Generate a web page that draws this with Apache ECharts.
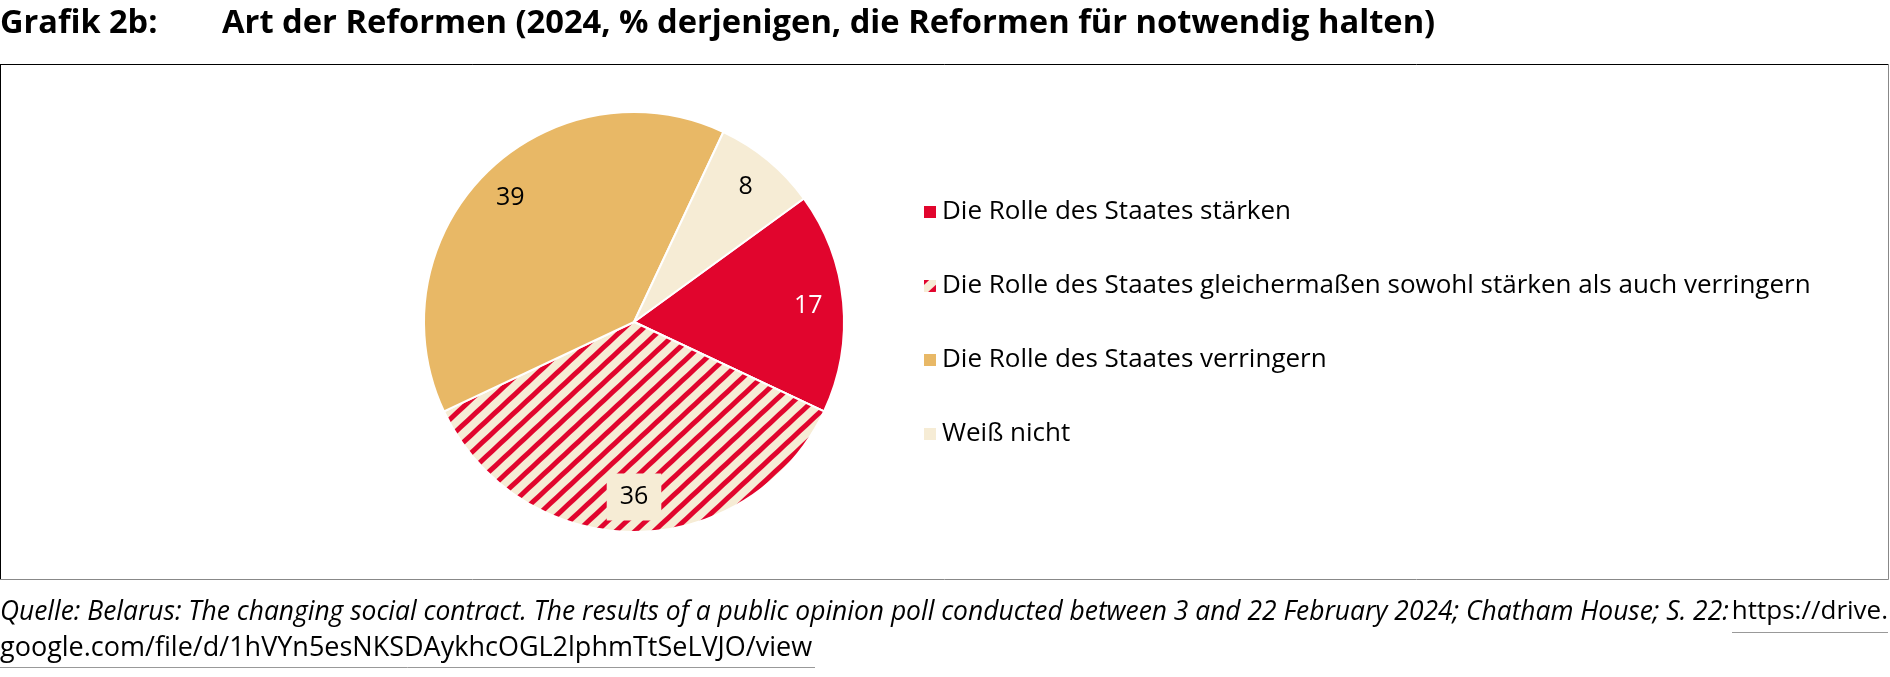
<!DOCTYPE html>
<html>
<head>
<meta charset="utf-8">
<title>Art der Reformen</title>
<script src="https://cdn.jsdelivr.net/npm/echarts@6/dist/echarts.min.js"></script>
<style>
  html, body { margin: 0; padding: 0; background: #fff; }
  #chart { width: 1890px; height: 677px; }
</style>
</head>
<body>
<div id="chart"></div>
<script>
  // Daten
  var categories = [
    'Die Rolle des Staates stärken',
    'Die Rolle des Staates gleichermaßen sowohl stärken als auch verringern',
    'Die Rolle des Staates verringern',
    'Weiß nicht'
  ]
  var values = [17, 36, 39, 8]
  var sliceColors = ['#e1052d', '#f6ecd5', '#e8b866', '#f6ecd5']
  var labelColors = ['#ffffff', '#000000', '#000000', '#000000']
  var hatched = [false, true, false, false]

  var titleLabel = 'Grafik 2b:'
  var titleText = 'Art der Reformen (2024, % derjenigen, die Reformen für notwendig halten)'
  var sourceText = 'Quelle: Belarus: The changing social contract. The results of a public opinion poll conducted between 3 and 22 February 2024; Chatham House; S. 22: '
  var linkLine1 = 'https://drive.'
  var linkLine2 = 'google.com/file/d/1hVYn5esNKSDAykhcOGL2lphmTtSeLVJO/view'

  var FONT = '"Open Sans", "Noto Sans", sans-serif'
  var RED = '#e1052d'
  var CREAM = '#f6ecd5'
  var center = [634, 322]
  var radius = 210
  var startAngle = 36

  // Streifenmuster fuer "gleichermaßen"
  var stripes = {
    symbol: 'rect',
    symbolSize: 1,
    color: RED,
    backgroundColor: CREAM,
    dashArrayX: [1, 0],
    dashArrayY: [5, 8],
    rotation: -0.75
  }

  var pieData = categories.map(function (name, i) {
    var item = {
      name: name,
      value: values[i],
      itemStyle: { color: sliceColors[i] }
    }
    if (hatched[i]) item.itemStyle.decal = stripes
    return item
  })

  // unsichtbarer Ring nur fuer die Beschriftung (weiter aussen als 'inside')
  var labelData = categories.map(function (name, i) {
    var lbl = { color: labelColors[i] }
    if (hatched[i]) {
      lbl.backgroundColor = CREAM
      lbl.padding = [11, 13]
    }
    return { name: name, value: values[i], label: lbl }
  })

  function txt (x, y, text, font, align, fill) {
    return {
      type: 'text', x: x, y: y, silent: true,
      style: {
        text: text, font: font, fill: fill || '#000',
        align: align || 'left', textAlign: align || 'left',
        verticalAlign: 'middle', textVerticalAlign: 'middle'
      }
    }
  }
  function line (x1, y1, x2, y2, color) {
    return {
      type: 'line', silent: true,
      shape: { x1: x1, y1: y1, x2: x2, y2: y2 },
      style: { stroke: color, lineWidth: 1 }
    }
  }

  var chart = echarts.init(document.getElementById('chart'))
  chart.setOption({
    animation: false,
    backgroundColor: '#fff',
    graphic: [
      txt(0, 24, titleLabel, 'bold 32.5px ' + FONT),
      txt(222, 24, titleText, 'bold 32.7px ' + FONT),
      // Rahmen
      line(0, 64.5, 1888.5, 64.5, '#000'),
      line(0.5, 64.5, 0.5, 579.5, '#000'),
      line(1888.5, 64.5, 1888.5, 579.5, '#888'),
      line(0.5, 579.5, 1888.5, 579.5, '#888'),
      // Quelle
      txt(0, 612, sourceText, 'italic 26.4px ' + FONT),
      txt(1888, 612, linkLine1, '26px ' + FONT, 'right'),
      line(1732, 632.5, 1888, 632.5, '#999'),
      txt(0, 648, linkLine2, '27px ' + FONT),
      line(0, 667.5, 815, 667.5, '#999')
    ],
    legend: {
      orient: 'vertical',
      left: 917,
      top: 194,
      icon: 'rect',
      itemWidth: 14,
      itemHeight: 14,
      itemGap: 48,
      selectedMode: false,
      data: categories,
      textStyle: { fontFamily: FONT, fontSize: 26, lineHeight: 26, color: '#000' }
    },
    series: [
      {
        name: 'Reformen',
        type: 'pie',
        center: center,
        radius: radius,
        startAngle: startAngle,
        clockwise: true,
        silent: true,
        label: { show: false },
        labelLine: { show: false },
        itemStyle: { borderColor: '#fff', borderWidth: 2 },
        data: pieData
      },
      {
        name: 'Beschriftung',
        type: 'pie',
        center: center,
        radius: [134, radius],
        startAngle: startAngle,
        clockwise: true,
        silent: true,
        avoidLabelOverlap: false,
        itemStyle: { color: 'rgba(0,0,0,0)', borderWidth: 0 },
        label: {
          show: true,
          position: 'inside',
          formatter: '{c}',
          fontFamily: FONT,
          fontSize: 25
        },
        labelLine: { show: false },
        data: labelData
      }
    ]
  })
</script>
</body>
</html>
